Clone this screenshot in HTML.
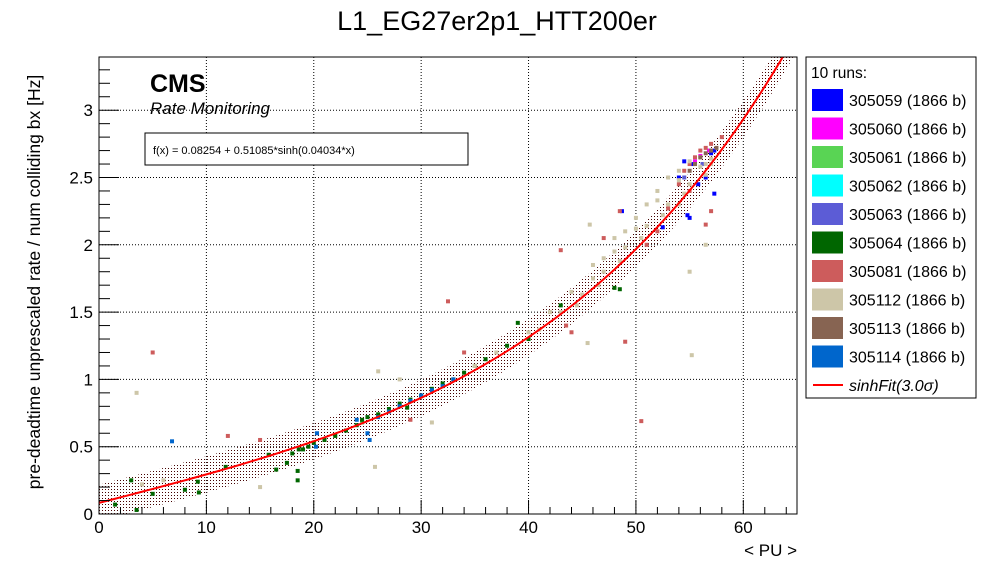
<!DOCTYPE html>
<html><head><meta charset="utf-8">
<style>
body{margin:0;background:#fff;}
svg{display:block;font-family:"Liberation Sans",sans-serif;}
</style></head>
<body>
<svg id="chart" width="996" height="572" viewBox="0 0 996 572">
<defs>
<pattern id="dots" width="3" height="3" patternUnits="userSpaceOnUse"><rect x="0" y="0" width="1" height="1" fill="#400"/></pattern>
<clipPath id="plotclip"><rect x="99" y="57" width="698" height="457"/></clipPath>
</defs>
<rect width="996" height="572" fill="#fff"/>
<text x="497" y="30" font-size="27" text-anchor="middle">L1_EG27er2p1_HTT200er</text>
<g id="grid"></g>
<g id="band" clip-path="url(#plotclip)"></g>
<g id="points" clip-path="url(#plotclip)"></g>
<g id="fit" clip-path="url(#plotclip)"></g>
<rect x="99" y="57" width="698" height="457" fill="none" stroke="#000" stroke-width="1"/>
<g id="axes"></g>
<text x="797" y="556" font-size="17" text-anchor="end">&lt; PU &gt;</text>
<text transform="translate(40,282) rotate(-90)" font-size="17.5" text-anchor="middle">pre-deadtime unprescaled rate / num colliding bx [Hz]</text>
<text x="150" y="92" font-size="25" font-weight="bold">CMS</text>
<text x="150" y="114" font-size="17" font-style="italic">Rate Monitoring</text>
<rect x="145" y="133" width="323" height="32" fill="#fff" stroke="#000"/>
<text x="153" y="154" font-size="11">f(x) = 0.08254 + 0.51085*sinh(0.04034*x)</text>
<g id="legend">
<rect x="806" y="57" width="170" height="341" fill="#fff" stroke="#000"/>
<text x="811" y="78" font-size="15.5">10 runs:</text>
</g>
</svg>
<script>
const xTicks=[0,10,20,30,40,50,60];
const yTicks=[0,0.5,1,1.5,2,2.5,3];
const yTickLabels=["0","0.5","1","1.5","2","2.5","3"];
const fitParams=[0.08254,0.51085,0.04034];
const bandHalfWidth=0.135;
const runs=["305059","305060","305061","305062","305063","305064","305081","305112","305113","305114"];
const runColors=["#0000ff","#ff00ff","#59d454","#00ffff","#5c5cd6","#006600","#cd5c5c","#cdc6a8","#876452","#0066cc"];
const run305059=[[48.7,2.25],[52.5,2.13],[54,2.5],[54.8,2.22],[55,2.2],[55.3,2.6],[56.5,2.5],[57.3,2.38],[57.3,2.7],[54.5,2.62],[55.8,2.45],[57,2.68]];
const run305060=[[55.5,2.62],[56,2.66],[56.8,2.7]];
const run305061=[[24.5,0.68],[26,0.74]];
const run305062=[];
const run305063=[[54.5,2.5],[56.2,2.6]];
const run305064=[[1.5,0.07],[3,0.25],[3.5,0.03],[5,0.15],[8,0.18],[9.2,0.24],[9.3,0.16],[11.8,0.35],[15.8,0.44],[16.5,0.33],[17.5,0.38],[18.5,0.32],[18.5,0.25],[18,0.45],[18.6,0.48],[19,0.48],[19.5,0.5],[20,0.53],[21,0.55],[22,0.58],[23,0.62],[24,0.66],[24.5,0.7],[25,0.72],[26,0.74],[27,0.78],[28,0.82],[28.7,0.79],[29,0.85],[30,0.88],[31,0.93],[32,0.97],[33,1.0],[34,1.05],[35,1.1],[36,1.15],[38,1.25],[39,1.42],[40,1.3],[43,1.55],[48,1.68],[48.5,1.67]];
const run305081=[[5,1.2],[12,0.58],[15,0.55],[29,0.7],[32.5,1.58],[34,1.2],[43,1.96],[43.5,1.4],[44,1.35],[49,1.28],[50.5,0.69],[47,2.05],[48.5,2.25],[51,2.0],[52,2.1],[53,2.27],[54,2.45],[54.5,2.55],[55,2.6],[55.5,2.65],[56,2.7],[56.5,2.72],[57,2.75],[58,2.8],[57,2.25],[56.5,2.15],[55,2.4]];
const run305112=[[3.5,0.9],[4,0.22],[6,0.25],[15,0.2],[25.7,0.35],[26,1.06],[28,1.0],[31,0.68],[33,1.0],[35,1.1],[37,1.2],[40,1.35],[42,1.5],[44,1.65],[45.5,1.27],[45.7,2.15],[46,1.85],[47,1.9],[48,2.05],[49,2.1],[50,2.2],[51,2.3],[52,2.4],[53,2.5],[54,2.55],[55,2.62],[56,2.65],[56.5,2.6],[55,1.8],[55.2,1.18],[56.5,2.0],[54,2.3],[46,1.75],[48,1.95],[50,2.12],[52,2.33],[54,2.48],[56,2.58],[57,2.64],[41,1.37],[43,1.5],[45,1.63],[47,1.8],[49,1.98],[51,2.14],[53,2.3],[55,2.45],[57,2.6],[44.5,1.55],[46.5,1.7],[48.5,1.88],[50.5,2.05],[52.5,2.22],[54.5,2.38],[56.5,2.52]];
const run305113=[[55,2.55],[55.5,2.6],[56,2.65],[56.5,2.68],[57,2.7],[57.5,2.72]];
const run305114=[[6.8,0.54],[20.2,0.5],[20.3,0.6],[24,0.7],[25,0.6],[25.2,0.55],[26,0.72],[27,0.76],[28,0.8],[29,0.84],[30,0.88],[31,0.92],[32,0.95],[33,1.0]];
const runPoints=[run305059,run305060,run305061,run305062,run305063,run305064,run305081,run305112,run305113,run305114];

const NS="http://www.w3.org/2000/svg";
const X0=99,X1=797,Y0=514,Y1=57,XMAX=65;
function sx(v){return X0+v*(X1-X0)/XMAX;}
function sy(v){return Y0-v*134.6;}
function mk(tag,attrs,parent){const e=document.createElementNS(NS,tag);for(const k in attrs)e.setAttribute(k,attrs[k]);parent.appendChild(e);return e;}
function fit(x){return fitParams[0]+fitParams[1]*Math.sinh(fitParams[2]*x);}

const grid=document.getElementById('grid');
xTicks.forEach(t=>{if(t>0){const l=mk('line',{x1:sx(t),x2:sx(t),y1:Y0,y2:Y1,stroke:'#000','stroke-dasharray':'1,2'},grid);

}});
yTicks.forEach(t=>{if(t>0){const l=mk('line',{x1:X0,x2:X1,y1:sy(t),y2:sy(t),stroke:'#000','stroke-dasharray':'1,2'},grid);

}});

let up=[],dn=[];
for(let x=0;x<=XMAX;x+=0.5){up.push(sx(x)+','+sy(fit(x)+bandHalfWidth));dn.unshift(sx(x)+','+sy(Math.max(0,fit(x)-bandHalfWidth)));}
const band=mk('polygon',{points:up.concat(dn).join(' '),fill:'url(#dots)'},document.getElementById('band'));



const pg=document.getElementById('points');
runPoints.forEach((arr,i)=>{arr.forEach(p=>{const r=mk('rect',{x:sx(p[0])-2,y:sy(p[1])-2,width:4,height:4,fill:runColors[i]},pg);

});});

let pts=[];for(let x=0;x<=XMAX;x+=0.5)pts.push(sx(x)+','+sy(fit(x)));
const fl=mk('polyline',{points:pts.join(' '),fill:'none',stroke:'#f00','stroke-width':2},document.getElementById('fit'));



const ax=document.getElementById('axes');
for(let v=0;v<=XMAX;v+=2){const major=v%10===0;const l=mk('line',{x1:sx(v),x2:sx(v),y1:Y0,y2:Y0-(major?14:7),stroke:'#000'},ax);

}
xTicks.forEach(t=>{const tx=mk('text',{x:sx(t),y:533,'font-size':17,'text-anchor':'middle'},ax);tx.textContent=String(t);

});
for(let k=0;k<=33;k++){const v=k*0.1;const major=k%5===0;const l=mk('line',{x1:X0,x2:X0+(major?20:11),y1:sy(v),y2:sy(v),stroke:'#000'},ax);

}
yTicks.forEach((t,i)=>{const tx=mk('text',{x:93,y:sy(t)+6,'font-size':17,'text-anchor':'end'},ax);tx.textContent=yTickLabels[i];

});

const lg=document.getElementById('legend');
runs.forEach((r,i)=>{const y=89+i*28.5;
const sw=mk('rect',{x:812,y:y,width:31,height:22,fill:runColors[i]},lg);


const t=mk('text',{x:849,y:y+17,'font-size':16},lg);t.textContent=r+' (1866 b)';

});
const fy=89+10*28.5;
const fsw=mk('line',{x1:813,x2:843,y1:fy+11,y2:fy+11,stroke:'#f00','stroke-width':2},lg);


const ft=mk('text',{x:849,y:fy+17,'font-size':16,'font-style':'italic'},lg);ft.textContent='sinhFit(3.0σ)';


</script>
</body></html>
